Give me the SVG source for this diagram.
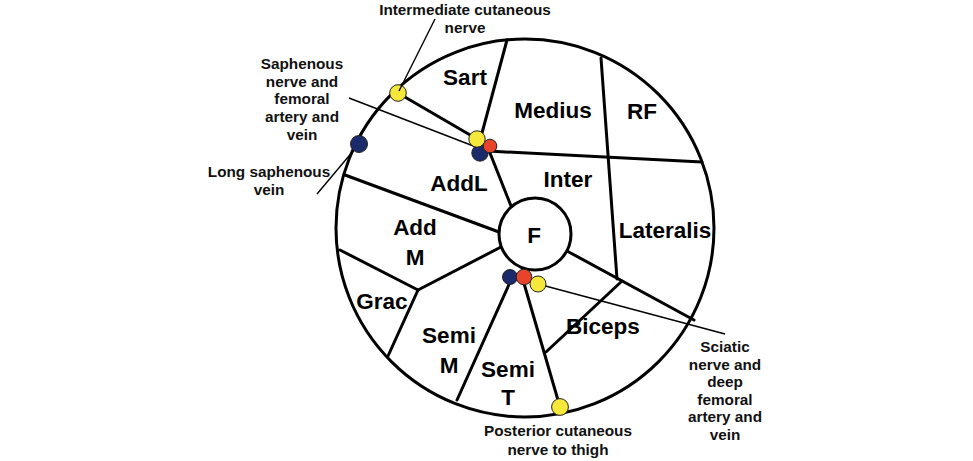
<svg xmlns="http://www.w3.org/2000/svg" width="973" height="461" viewBox="0 0 973 461">
<style>
.bg{fill:#ffffff}
.outline{fill:none;stroke:#000;stroke-width:3}
.wall{stroke:#000;stroke-width:3;stroke-linecap:round;fill:none}
.lead{stroke:#000;stroke-width:1.4;fill:none}
.m{font-family:"Liberation Sans",Arial,sans-serif;font-weight:bold;font-size:22.5px;fill:#000;text-anchor:middle}
.l{font-family:"Liberation Sans",Arial,sans-serif;font-weight:bold;font-size:15.3px;fill:#111;text-anchor:middle}
.y{fill:#f6e83a;stroke:#222;stroke-width:1}
.n{fill:#1b2a6b;stroke:#222;stroke-width:1}
.r{fill:#e8432b;stroke:#222;stroke-width:1}
</style>
<rect class="bg" x="0" y="0" width="973" height="461"/>
<g id="thigh">
<circle class="outline" cx="525" cy="228" r="189"/>
</g>
<g id="connectors">
<line class="wall" x1="482" y1="133" x2="507" y2="40"/>
<line class="wall" x1="398" y1="93" x2="477" y2="139"/>
<line class="wall" x1="488" y1="151" x2="702" y2="162"/>
<line class="wall" x1="490" y1="153" x2="511" y2="206"/>
<line class="wall" x1="601" y1="58" x2="617" y2="279"/>
<line class="wall" x1="567" y1="251" x2="694" y2="320"/>
<line class="wall" x1="622" y1="281" x2="546" y2="352"/>
<line class="wall" x1="523" y1="280" x2="560" y2="407"/>
<line class="wall" x1="511" y1="280" x2="457" y2="400"/>
<line class="wall" x1="501" y1="247" x2="418" y2="290"/>
<line class="wall" x1="418" y1="290" x2="340" y2="250"/>
<line class="wall" x1="418" y1="290" x2="388" y2="356"/>
<line class="wall" x1="345" y1="175" x2="499" y2="232"/>
<line class="lead" x1="349" y1="98" x2="476" y2="147"/>
<line class="lead" x1="359" y1="144" x2="317" y2="194"/>
<line class="lead" x1="538" y1="284" x2="725" y2="334"/>
</g>
<g id="femur">
<circle cx="535" cy="234" r="36" fill="#fff" stroke="#000" stroke-width="3"/>
<text class="m" x="534" y="243">F</text>
</g>
<g id="muscles">
<text class="m" x="465" y="85">Sart</text>
<text class="m" x="553" y="118">Medius</text>
<text class="m" x="642" y="119">RF</text>
<text class="m" x="568" y="187">Inter</text>
<text class="m" x="665" y="238">Lateralis</text>
<text class="m" x="459" y="191">AddL</text>
<text class="m" x="415" y="235">Add</text>
<text class="m" x="415" y="265">M</text>
<text class="m" x="382" y="309">Grac</text>
<text class="m" x="449" y="343">Semi</text>
<text class="m" x="449" y="373">M</text>
<text class="m" x="508" y="377">Semi</text>
<text class="m" x="508" y="405">T</text>
<text class="m" x="603" y="334">Biceps</text>
</g>
<g id="vessels">
<circle class="y" cx="398" cy="93" r="8.3"/>
<circle class="n" cx="359" cy="144" r="8.5"/>
<circle class="n" cx="480" cy="153" r="8.2"/>
<circle class="r" cx="490" cy="146" r="6.8"/>
<circle class="y" cx="477" cy="139" r="8.2"/>
<circle class="n" cx="510" cy="277" r="7.5"/>
<circle class="r" cx="524" cy="277" r="7.8"/>
<circle class="y" cx="538" cy="284" r="8"/>
<circle class="y" cx="560" cy="407" r="8.4"/>
<line class="lead" x1="399" y1="91" x2="435" y2="19"/>
</g>
<g id="labels">
<text class="l" x="465" y="15">Intermediate cutaneous</text>
<text class="l" x="465" y="33">nerve</text>
<text class="l" x="302" y="69">Saphenous</text>
<text class="l" x="302" y="87">nerve and</text>
<text class="l" x="302" y="104">femoral</text>
<text class="l" x="302" y="122">artery and</text>
<text class="l" x="302" y="140">vein</text>
<text class="l" x="269" y="177">Long saphenous</text>
<text class="l" x="269" y="195">vein</text>
<text class="l" x="558" y="436">Posterior cutaneous</text>
<text class="l" x="558" y="455">nerve to thigh</text>
<text class="l" x="725" y="352">Sciatic</text>
<text class="l" x="725" y="370">nerve and</text>
<text class="l" x="725" y="387">deep</text>
<text class="l" x="725" y="405">femoral</text>
<text class="l" x="725" y="422">artery and</text>
<text class="l" x="725" y="440">vein</text>
</g>
</svg>
